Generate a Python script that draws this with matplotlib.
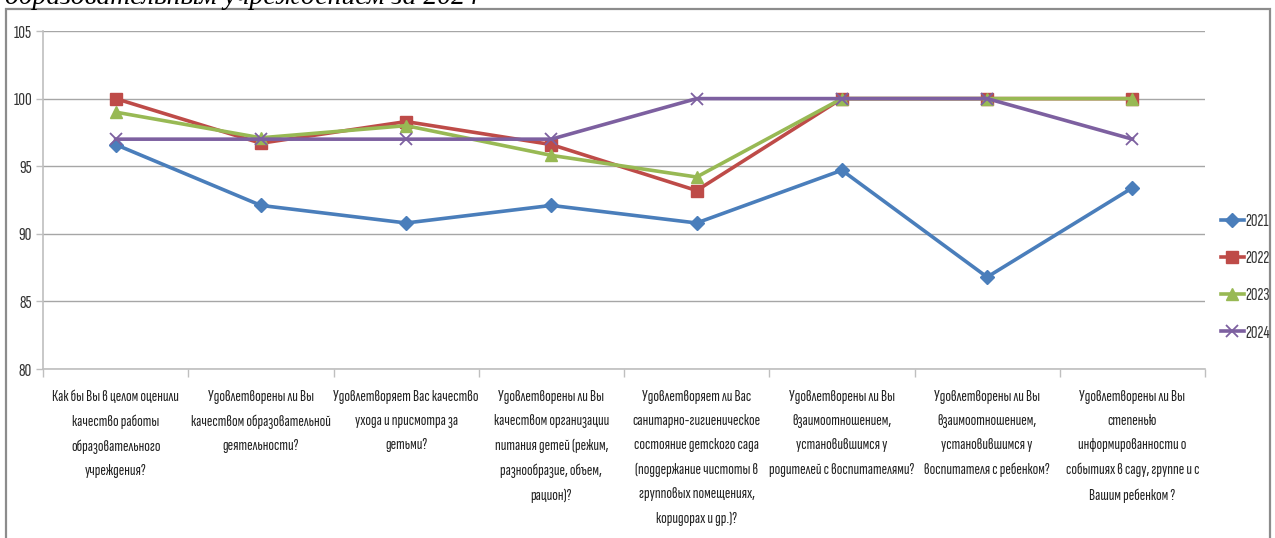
import matplotlib
matplotlib.use("Agg")
import matplotlib.pyplot as plt
from matplotlib.patches import Rectangle

categories = [
    "Как бы Вы в целом оценили\nкачество работы\nобразовательного\nучреждения?",
    "Удовлетворены ли Вы\nкачеством образовательной\nдеятельности?",
    "Удовлетворяет Вас качество\nухода и присмотра за\nдетьми?",
    "Удовлетворены ли Вы\nкачеством организации\nпитания детей (режим,\nразнообразие, объем,\nрацион)?",
    "Удовлетворяет ли Вас\nсанитарно-гигиеническое\nсостояние детского сада\n(поддержание чистоты в\nгрупповых помещениях,\nкоридорах и др.)?",
    "Удовлетворены ли Вы\nвзаимоотношением,\nустановившимся у\nродителей с воспитателями?",
    "Удовлетворены ли Вы\nвзаимоотношением,\nустановившимся у\nвоспитателя с ребенком?",
    "Удовлетворены ли Вы\nстепенью\nинформированности о\nсобытиях в саду, группе и с\nВашим ребенком ?",
]
series_names = ["2021", "2022", "2023", "2024"]
v2021 = [96.6, 92.1, 90.8, 92.1, 90.8, 94.7, 86.8, 93.4]
v2022 = [100, 96.7, 98.3, 96.6, 93.2, 100, 100, 100]
v2023 = [99.0, 97.1, 98.0, 95.8, 94.2, 100, 100, 100]
v2024 = [97, 97, 97, 97, 100, 100, 100, 97]
yticks = [80, 85, 90, 95, 100, 105]

colors = ["#4A7EBB", "#BE4B48", "#98B954", "#7D60A0"]
markers = ["D", "s", "^", "x"]
msizes = [7, 8, 8, 9]

FONT = ["Sofia Sans Extra Condensed", "Fira Sans Extra Condensed", "DejaVu Sans"]

fig = plt.figure(figsize=(12.75, 5.38), dpi=100)
W, H = 1275, 538
ax = fig.add_axes([43 / W, 1 - 369 / H, (1205 - 43) / W, (369 - 31) / H])

x = list(range(1, len(categories) + 1))
data = [v2021, v2022, v2023, v2024]
handles = []
for i, (vals, name) in enumerate(zip(data, series_names)):
    kw = dict(color=colors[i], lw=2.6, marker=markers[i], ms=msizes[i],
              markeredgecolor=colors[i], zorder=3 + i, label=name)
    if markers[i] == "x":
        kw["markeredgewidth"] = 1.3
    ln, = ax.plot(x, vals, **kw)
    handles.append(ln)

ax.set_xlim(0.5, len(categories) + 0.5)
ax.set_ylim(80, 105)
ax.set_yticks(yticks)
ax.set_yticklabels([str(t) for t in yticks], fontfamily=FONT, fontsize=13.5, color="#333333")
ax.yaxis.grid(True, color="#A6A6A6", lw=1.0)
ax.set_axisbelow(True)
for s in ["top", "right"]:
    ax.spines[s].set_visible(False)
for s in ["left", "bottom"]:
    ax.spines[s].set_color("#BFBFBF")
    ax.spines[s].set_linewidth(1.2)
ax.tick_params(axis="y", length=5, color="#BFBFBF", pad=3, width=1.0)

ax.set_xticks(x)
ax.set_xticklabels(categories, fontfamily=FONT, fontsize=12, color="#222222",
                   linespacing=1.93, va="top")
ax.tick_params(axis="x", length=0, pad=15)
ax.set_xticks([k + 0.5 for k in range(0, len(categories) + 1)], minor=True)
ax.tick_params(axis="x", which="minor", length=6, color="#BFBFBF", width=1.0)

leg = fig.legend(handles=handles, labels=series_names, loc="center left",
                 bbox_to_anchor=(1221 / W, 1 - 277 / H), frameon=False,
                 prop={"family": FONT, "size": 13}, handlelength=1.25,
                 labelspacing=1.2, handletextpad=0.08, borderaxespad=0,
                 borderpad=0)
for t in leg.get_texts():
    t.set_color("#333333")

# outer frame
fig.patches.append(Rectangle((6 / W, -0.1), (1270 - 6) / W, 1.1 - 9 / H,
                             transform=fig.transFigure, fill=False,
                             edgecolor="#8C8C8C", lw=1.6))

# clipped heading text above the chart
fig.text(5 / W, 1 - 4 / H, "образовательным учреждением за 2024",
         fontfamily="Liberation Serif", fontstyle="italic", fontsize=20,
         va="baseline", ha="left", color="#000000")

fig.savefig("out.png", dpi=100)
